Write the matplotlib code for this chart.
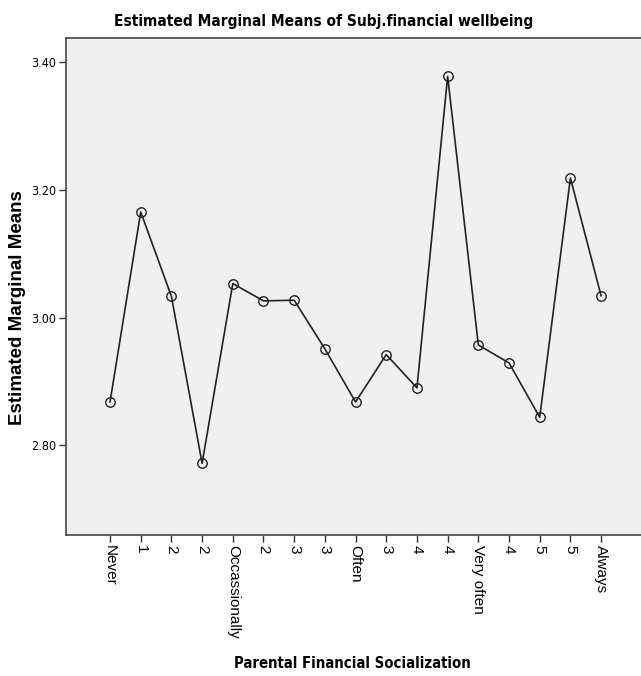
import matplotlib.pyplot as plt
import numpy as np

# 데이터
categories = ['Never', '1', '2', '2', 'Occassionally', '2', '3', '3', 'Often',
              '3', '4', '4', 'Very often', '4', '5', '5', 'Always']
means = [2.868, 3.165, 3.033, 2.772, 3.053, 3.026, 3.027, 2.951, 2.868,
         2.942, 2.890, 3.377, 2.957, 2.929, 2.844, 3.218, 3.034]
yticks = [2.80, 3.00, 3.20, 3.40]

plt.rcParams['font.family'] = ['Liberation Sans', 'DejaVu Sans']

fig = plt.figure(figsize=(6.41, 6.76), dpi=100)
ax = fig.add_axes([0.103, 0.2086, 0.897, 0.7352])
ax.set_facecolor('#f0f0f0')

x = np.arange(len(categories))
ax.plot(x, means, color='#222222', linewidth=1.2, marker='o', markersize=6.8,
        markerfacecolor='none', markeredgecolor='#222222', markeredgewidth=1.0)

ax.set_xlim(-1.434, 17.30)
ax.set_ylim(2.660, 3.437)

ax.set_xticks(x)
ax.set_xticklabels(categories, rotation=270, fontsize=11, va='top', ha='center')
ax.set_yticks(yticks)
ax.set_yticklabels(['%.2f' % v for v in yticks], fontsize=9,
                   family='DejaVu Sans', fontstretch='condensed')
ax.tick_params(direction='out', length=5, width=1, color='#333333', pad=2)

for s in ['left', 'bottom', 'top']:
    ax.spines[s].set_color('#444444')
    ax.spines[s].set_linewidth(1.2)
ax.spines['right'].set_visible(False)

# 제목과 축 라벨 (좁은 글꼴)
fig.text(0.505, 0.968, 'Estimated Marginal Means of Subj.financial wellbeing',
         ha='center', va='center', fontsize=11.1, fontweight='bold',
         family='DejaVu Sans', fontstretch='condensed')
fig.text(0.028, 0.545, 'Estimated Marginal Means', rotation=90, ha='center',
         va='center', fontsize=13.5, fontweight='bold')
fig.text(0.55, 0.019, 'Parental Financial Socialization', ha='center',
         va='center', fontsize=10.6, fontweight='bold',
         family='DejaVu Sans', fontstretch='condensed')

fig.savefig('out.png', dpi=100)
